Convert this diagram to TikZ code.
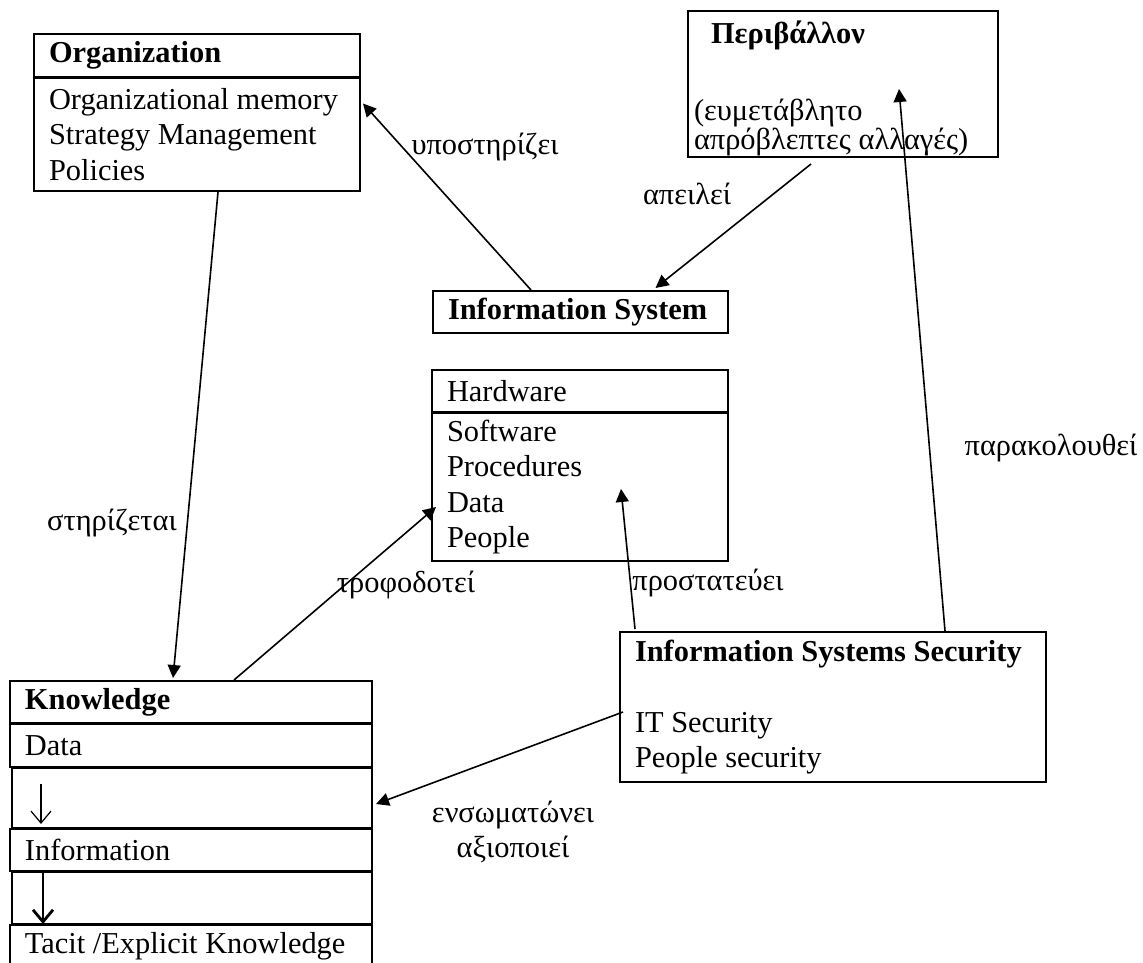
\documentclass[tikz,border=0pt]{standalone}
\usepackage{fontspec}
\setmainfont{Liberation Serif}
\usetikzlibrary{arrows.meta,calc}
\begin{document}
\begin{tikzpicture}[
    x=0.5pt, y=-0.5pt,
    bx/.style={rectangle, draw, line width=1pt, anchor=north west,
               align=flush left, inner xsep=7.5pt, inner ysep=0pt,
               font=\fontsize{15.2pt}{17.7pt}\selectfont},
    rel/.style={-{Triangle[length=6.5pt,width=6.5pt]}, line width=0.8pt},
    lbl/.style={anchor=base, inner sep=0pt,
                font=\fontsize{15.2pt}{17.7pt}\selectfont},
    down/.style={-{Straight Barb[length=6pt,width=10pt]}}
]
\useasboundingbox (0,0) rectangle (1143,962);

% boxes
\node[bx, text width=148pt, minimum height=21.5pt] (orghead) at (33,33) {\textbf{Organization}};
\node[bx, text width=148pt, minimum height=56.5pt] (orgbody) at (33,77)
    {Organizational memory\\Strategy Management\\Policies};
\node[bx, text width=149pt, inner xsep=3pt, minimum height=73pt] (env) at (687,10)
    {\rule{0pt}{16pt}\hspace*{8.5pt}\textbf{Περιβάλλον}\\[21pt]
     (ευμετάβλητο\\[-3.2pt]απρόβλεπτες αλλαγές)};
\node[bx, text width=132.5pt, minimum height=21pt] (is) at (432,290) {\textbf{Information System}};
\node[bx, text width=133pt, minimum height=21pt] (hwhead) at (431,369) {Hardware};
\node[bx, text width=133pt, minimum height=74pt] (hwbody) at (431,412)
    {Software\\Procedures\\Data\\People};
\node[bx, text width=198pt, minimum height=75pt] (iss) at (619,631)
    {\textbf{Information Systems Security}\\[17.7pt]IT Security\\People security};

\node[bx, text width=166pt, minimum height=21pt] (khead) at (9,680) {\textbf{Knowledge}};
\node[bx, text width=166pt, minimum height=21.5pt] (kdata) at (9,723) {Data};
\node[bx, text width=165pt, minimum height=30pt] (gapa) at (11,767) {};
\node[bx, text width=166pt, minimum height=21pt] (kinfo) at (9,828) {Information};
\node[bx, text width=165pt, minimum height=26pt] (gapb) at (11,871) {};
\node[bx, text width=166pt, minimum height=21pt] (ktacit) at (9,924) {Tacit /Explicit Knowledge};

\draw[down, line width=0.6pt] ($(gapa.north west)+(30,17)$) -- ($(gapa.north west)+(30,57)$);
\draw[down, line width=1.4pt] ($(gapb.north west)+(32,1)$) -- ($(gapb.south west)+(32,-1)$);

% relations
\draw[rel] ($(is.north)+(-49.5,0)$) -- ($(orgbody.east)+(2,-31)$);
\draw[rel] ($(env.south)+(-32,6)$) -- ($(is.north)+(75,-2)$);
\draw[rel] ($(orgbody.south)+(21,0)$) -- ($(khead.north)+(-18,-2)$);
\draw[rel] ($(khead.north)+(43,0)$) -- ($(hwbody.west)+(5,20)$);
\draw[rel] ($(iss.north)+(-198,-2)$) -- ($(hwbody.center)+(41,2)$);
\draw[rel] ($(iss.north)+(112,0)$) -- ($(env.center)+(56,5)$);
\draw[rel] ($(iss.west)+(4,5)$) -- ($(gapa.east)+(3,6)$);

% labels
\node[lbl] (lsupp) at (485,155) {υποστηρίζει};
\node[lbl] (lthr) at (687,205) {απειλεί};
\node[lbl] (lrest) at (112,530) {στηρίζεται};
\node[lbl] (lfeed) at (406,592) {τροφοδοτεί};
\node[lbl] (lprot) at (708,590) {προστατεύει};
\node[lbl] (lmon) at (1051,455) {παρακολουθεί};
\node[lbl, anchor=center, align=center] (linc) at (513,832) {ενσωματώνει\\αξιοποιεί};
\end{tikzpicture}
\end{document}
